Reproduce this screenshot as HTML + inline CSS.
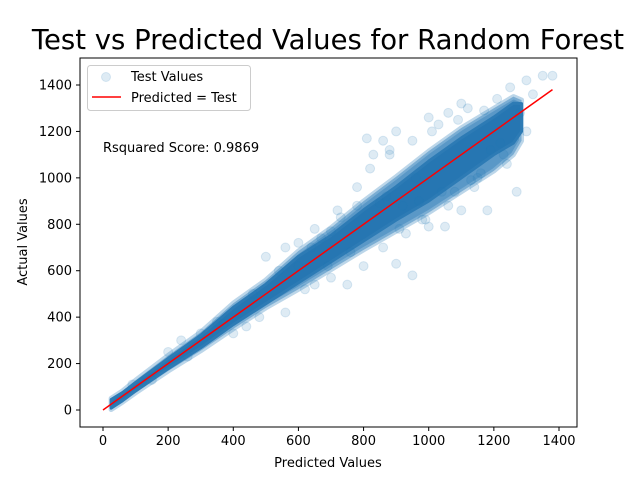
<!DOCTYPE html>
<html><head><meta charset="utf-8"><style>
body{margin:0;background:#fff}
svg{display:block;font-family:"DejaVu Sans","Liberation Sans",sans-serif}
</style></head><body>
<svg id="chart" width="640" height="480" viewBox="0 0 640 480">
<rect width="640" height="480" fill="#fff"/>
<text x="328" y="49" font-size="27.5" text-anchor="middle">Test vs Predicted Values for Random Forest</text>
<g id="plot"></g>
</svg>
<script>
const xTicks=[0,200,400,600,800,1000,1200,1400];
const yTicks=[0,200,400,600,800,1000,1200,1400];
const bandX=[25,60,100,200,300,400,500,600,700,800,900,1000,1100,1200,1260,1285];
const bandLow=[8,40,82,178,268,368,458,548,638,728,818,900,1000,1100,1150,1200];
const bandHigh=[45,75,118,222,322,442,542,662,752,862,962,1072,1172,1262,1322,1320];
const haloLow=[2,34,74,168,255,350,440,520,605,690,770,850,940,1030,1100,1160];
const haloHigh=[50,82,128,235,335,460,560,685,785,900,1005,1115,1215,1300,1350,1335];
const outX=[810,860,900,1100,1180,1270,1350,1380,900,950,1000,1050,700,750,500,560,600,650,720,780,820,880,950,1000,1060,1100,1250,1300,1300,1230,1150,1080,980,930,860,800,760,690,650,620,560,480,440,400,370,300,260,200,150,120,90,850,600,1030,1120,1210,1160,1320,1240,960,870,780,540,460,350,240,1060,1140,990,700,640,1280,1190,920,1010,1090,1170,1220,880,830,730,670,1040,1130,970,910];
const outY=[1170,1160,1200,860,860,940,1440,1440,630,580,790,790,570,540,660,700,720,780,860,960,1040,1100,1160,1260,1280,1320,1390,1420,1200,1100,1000,940,820,760,700,620,680,620,540,520,420,400,360,330,370,330,230,250,130,120,110,890,620,1230,1300,1340,1020,1360,1060,1000,920,880,600,500,380,300,880,960,820,770,700,1280,1120,880,1200,1250,1290,1150,1120,1100,830,740,940,990,900,780];
const X0=103,X1=559,Y0=410,Y1=85;
const sx=v=>X0+(X1-X0)*v/1400, sy=v=>Y0+(Y1-Y0)*v/1400;
const NS='http://www.w3.org/2000/svg';
const plot=document.getElementById('plot');
function mk(t,a,p){const e=document.createElementNS(NS,t);for(const k in a)e.setAttribute(k,a[k]);(p||plot).appendChild(e);return e;}
const fr=mk('rect',{x:80,y:58,width:497,height:369,fill:'none',stroke:'#000','stroke-width':1});


xTicks.forEach(t=>{
  const l=mk('line',{x1:sx(t),x2:sx(t),y1:427,y2:431,stroke:'#000'});
  
  
  const tx=mk('text',{x:sx(t),y:445,'font-size':13,'text-anchor':'middle'});tx.textContent=t;
  
  
});
yTicks.forEach(t=>{
  const l=mk('line',{x1:76,x2:80,y1:sy(t),y2:sy(t),stroke:'#000'});
  
  
  const tx=mk('text',{x:72,y:sy(t)+4.5,'font-size':13,'text-anchor':'end'});tx.textContent=t;
  
  
});
const xl=mk('text',{x:328,y:467,'font-size':13,'text-anchor':'middle'});xl.textContent='Predicted Values';


const yl=mk('text',{x:27,y:242,'font-size':13,'text-anchor':'middle',transform:'rotate(-90 27 242)'});yl.textContent='Actual Values';


function poly(lo,hi,attrs,name){
  let pts=bandX.map((x,i)=>sx(x)+','+sy(hi[i]));
  pts=pts.concat(bandX.map((x,i)=>sx(x)+','+sy(lo[i])).reverse());
  attrs.points=pts.join(' ');
  const p=mk('polygon',attrs);
  
  
}
poly(haloLow,haloHigh,{fill:'#3d86bd','fill-opacity':0.85,stroke:'#8fbadb','stroke-width':5,'stroke-linejoin':'round','stroke-opacity':0.6},'sparse-test-values');
poly(bandLow,bandHigh,{fill:'#2676b2',stroke:'#2d7bb5','stroke-width':3,'stroke-linejoin':'round'},'dense-test-values');
outX.forEach((x,i)=>{
  const c=mk('circle',{cx:sx(x),cy:sy(outY[i]),r:4.5,fill:'#1f77b4','fill-opacity':0.15,stroke:'#1f77b4','stroke-opacity':0.15});
  
  
});
const rl=mk('line',{x1:sx(0),y1:sy(0),x2:sx(1380),y2:sy(1380),stroke:'#ff0000','stroke-width':1.5});


const rs=mk('text',{x:103,y:152,'font-size':13});rs.textContent='Rsquared Score: 0.9869';


const lg=mk('g',{});


mk('rect',{x:87.5,y:65.5,width:163,height:45,rx:3,fill:'#fff','fill-opacity':0.8,stroke:'#ccc'},lg);
const le1=mk('circle',{cx:106,cy:77,r:4.5,fill:'#1f77b4','fill-opacity':0.15,stroke:'#1f77b4','stroke-opacity':0.15},lg);


const lt1=mk('text',{x:131,y:81,'font-size':13},lg);lt1.textContent='Test Values';


const le2=mk('line',{x1:92,x2:121,y1:97,y2:97,stroke:'#ff0000','stroke-width':1.5},lg);


const lt2=mk('text',{x:131,y:102,'font-size':13},lg);lt2.textContent='Predicted = Test';


</script>
</body></html>
